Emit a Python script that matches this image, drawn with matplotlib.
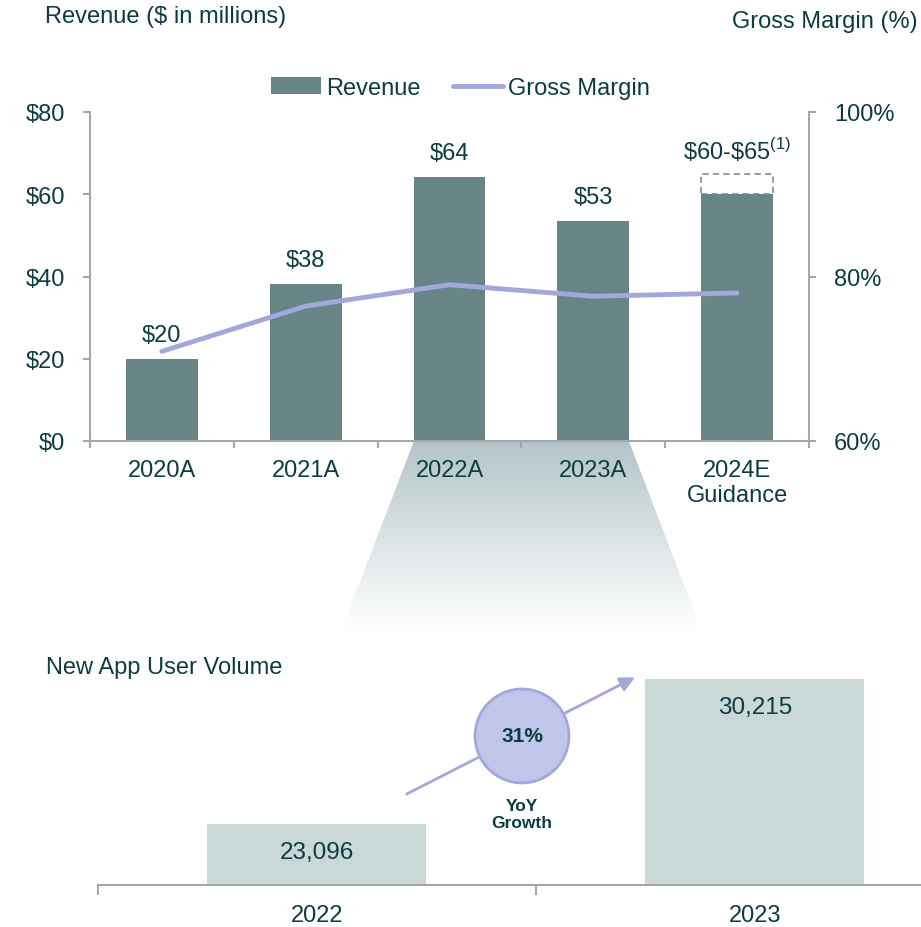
"""Render revenue / gross margin with a zoom-in on new app user volume."""
import matplotlib.pyplot as plt
import numpy as np
from matplotlib.colors import LinearSegmentedColormap
from matplotlib.patches import Polygon, Rectangle

TEXT = "#0c3c42"
BAR = "#678587"
LIGHT_BAR = "#cbd8d8"
LINE = "#a3a7dc"
SPINE = "#a6a6a6"

plt.rcParams["font.family"] = "Liberation Sans"
plt.rcParams["text.color"] = TEXT
plt.rcParams["xtick.labelcolor"] = TEXT
plt.rcParams["ytick.labelcolor"] = TEXT
plt.rcParams["mathtext.fontset"] = "custom"
plt.rcParams["mathtext.rm"] = "Liberation Sans"

W, H = 921, 928  # figure size in pixels


def _only_spines(ax, keep):
    for side, spine in ax.spines.items():
        spine.set_visible(side in keep)
        spine.set_color(SPINE)
        spine.set_linewidth(1.5)


def _revenue_panel(fig):
    years = ["2020A", "2021A", "2022A", "2023A", "2024E\nGuidance"]
    revenue = [20, 38.2, 64.2, 53.5, 60]
    guidance_high = 65
    labels = ["$20", "$38", "$64", "$53", r"\$60-\$65$^{\rm (1)}$"]
    margin = [70.9, 76.4, 79.0, 77.6, 78.0]

    ax = fig.add_axes([90 / W, 1 - 442 / H, 719 / W, 329 / H])
    x = np.arange(len(years))
    bars = ax.bar(x, revenue, width=0.5, color=BAR, label="Revenue", zorder=2)
    ax.add_patch(Rectangle((x[-1] - 0.25, revenue[-1]), 0.5,
                           guidance_high - revenue[-1], fill=False,
                           ec="#8fa3a5", ls=(0, (3, 2)), lw=1.5))

    tops = revenue[:-1] + [guidance_high]
    for xi, top, lab in zip(x, tops, labels):
        ax.annotate(lab, (xi, top), xytext=(0, 17), textcoords="offset points",
                    ha="center", va="center", fontsize=17)

    ax.set_yticks(range(0, 81, 20), [f"${v}" for v in range(0, 81, 20)])
    ax.set_xticks(x, years)
    ax.set_xticks(np.arange(-0.5, len(years)), minor=True)
    ax.set_xlim(-0.5, len(years) - 0.5)
    ax.set_ylim(0, 80)
    ax.tick_params(axis="x", which="major", length=0, pad=13, labelsize=17)
    ax.tick_params(axis="x", which="minor", length=5, width=1.5, color=SPINE)
    ax.tick_params(axis="y", length=5, width=1.5, color=SPINE, pad=13,
                   labelsize=17)
    _only_spines(ax, ("left", "bottom"))

    ax2 = ax.twinx()
    line, = ax2.plot(x, margin, color=LINE, lw=3.5, solid_capstyle="round",
                     label="Gross Margin")
    ax2.set_ylim(60, 100)
    ax2.set_yticks([60, 80, 100], ["60%", "80%", "100%"])
    ax2.tick_params(axis="y", length=5, width=1.5, color=SPINE, pad=13,
                    labelsize=17)
    _only_spines(ax2, ("right",))

    ax.legend([bars, line], ["Revenue", "Gross Margin"], loc="center",
              bbox_to_anchor=(0.5, 1 - 89 / H), bbox_transform=fig.transFigure,
              ncol=2, frameon=False, handlelength=2.1, handletextpad=0.2,
              columnspacing=1.4, fontsize=17)

    fig.text(45 / W, 1 - 17 / H, "Revenue ($ in millions)", ha="left",
             va="center", fontsize=17)
    fig.text(918 / W, 1 - 22 / H, "Gross Margin (%)", ha="right",
             va="center", fontsize=17)
    return ax


def _zoom_wedge(fig, ax_top):
    over = fig.add_axes([0, 0, 1, 1], zorder=-1)
    over.set_xlim(0, W)
    over.set_ylim(H, 0)
    to_px = ax_top.transData + over.transData.inverted()
    (x0, y0), (x1, _) = to_px.transform([(1.75, 0), (3.25, 0)])
    y0 += 1
    spread, y1 = 72, 631

    poly = Polygon([(x0, y0), (x1, y0), (x1 + spread, y1), (x0 - spread, y1)],
                   closed=True, fc="none", ec="none")
    over.add_patch(poly)
    fade = LinearSegmentedColormap.from_list("fade", ["#b3c4c8", "#ffffff"])
    grad = np.linspace(0, 1, 256).reshape(-1, 1)
    img = over.imshow(grad, cmap=fade, aspect="auto",
                      extent=(x0 - spread, x1 + spread, y1, y0))
    img.set_clip_path(poly)
    over.set_xlim(0, W)
    over.set_ylim(H, 0)
    over.axis("off")


def _users_panel(fig):
    years = ["2022", "2023"]
    users = [23096, 30215]
    growth = users[1] / users[0] - 1

    ax = fig.add_axes([98 / W, 1 - 886 / H, 823 / W, 226 / H])
    x = np.arange(len(years))
    ax.bar(x, users, width=0.5, color=LIGHT_BAR)

    for xi, v in zip(x, users):
        ax.annotate(f"{v:,}", (xi, v), xytext=(0, -20),
                    textcoords="offset points", ha="center", va="center",
                    fontsize=17.5)

    ax.set_xticks(x, years)
    ax.set_xticks([-0.5, 0.5, 1.5], minor=True)
    ax.set_yticks([])
    ax.set_xlim(-0.5, 1.379)  # axis runs off the right edge
    ax.set_ylim(20100, 31200)
    ax.tick_params(axis="x", which="major", length=0, pad=14, labelsize=17)
    ax.tick_params(axis="x", which="minor", length=7, width=1.5, color=SPINE)
    _only_spines(ax, ("bottom",))

    # growth arrow + bubble
    ax.annotate("", xy=(0.726, 30300), xytext=(0.205, 24570),
                arrowprops=dict(arrowstyle="-|>", color=LINE, lw=2,
                                mutation_scale=22, shrinkA=0, shrinkB=0))
    ax.text(0.468, 27420, f"{growth:.0%}", ha="center", va="center",
            fontsize=15, fontweight="bold",
            bbox=dict(boxstyle="circle,pad=1.25", fc="#c0c6e9", ec=LINE, lw=2))
    ax.text(0.468, 23590, "YoY\nGrowth", ha="center", va="center",
            fontsize=12.5, fontweight="bold", linespacing=1.1)

    fig.text(46 / W, 1 - 668 / H, "New App User Volume", ha="left",
             va="center", fontsize=17)


def render_chart(output_path="out.png"):
    fig = plt.figure(figsize=(W / 100, H / 100), dpi=100)
    fig.patch.set_facecolor("white")
    ax_top = _revenue_panel(fig)
    _zoom_wedge(fig, ax_top)
    _users_panel(fig)
    fig.savefig(output_path, dpi=100)
    plt.close(fig)


render_chart("out.png")
